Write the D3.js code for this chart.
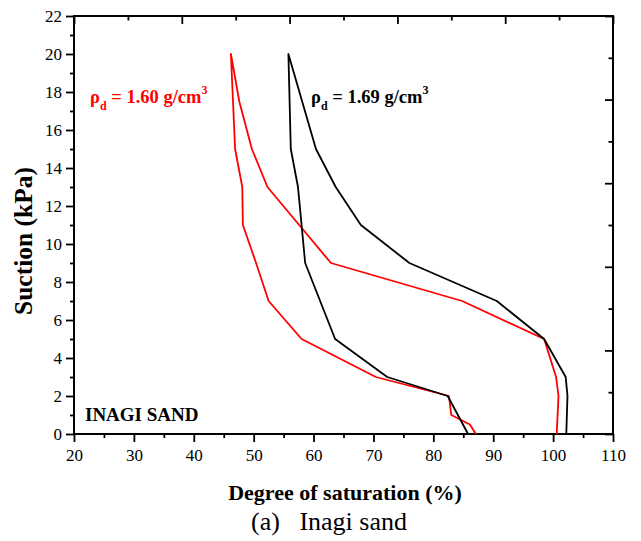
<!DOCTYPE html>
<html>
<head>
<meta charset="utf-8">
<script src="https://cdn.jsdelivr.net/npm/d3@7"></script>
<style>
  html, body { margin: 0; padding: 0; background: #fff; }
  svg text { font-family: 'Liberation Serif', 'Times New Roman', Times, 'DejaVu Serif', serif; }
</style>
</head>
<body>
<div id="chart"></div>
<script>
// suction (kPa) vs degree of saturation (%), drying branch then wetting branch
const blackSuction = [0, 2, 3, 5, 7, 9, 11, 13, 15, 20, 15, 13, 9, 5, 3, 2, 0];
const blackSaturation = [102.2, 102.4, 102.1, 98.5, 90.6, 76.0, 67.9, 63.7, 60.4, 55.8, 56.2, 57.4, 58.6, 63.6, 72.3, 82.4, 85.8];
const redSuction = [0, 2, 3, 5, 7, 9, 11, 13, 15, 17.5, 20, 15, 13, 11, 9, 7, 5, 3, 2, 1, 0.5, 0];
const redSaturation = [100.6, 100.9, 100.5, 98.5, 84.8, 62.9, 57.6, 52.3, 49.7, 47.6, 46.2, 46.9, 48.1, 48.2, 50.4, 52.5, 58.0, 70.4, 82.6, 83.0, 86.1, 87.1];

const xTicks = [20, 30, 40, 50, 60, 70, 80, 90, 100, 110];
const xMinorTicks = [25, 35, 45, 55, 65, 75, 85, 95, 105];
const yTicks = [0, 2, 4, 6, 8, 10, 12, 14, 16, 18, 20, 22];
const yMinorTicks = [1, 3, 5, 7, 9, 11, 13, 15, 17, 19, 21];
// top and right frame axes carry their own unlabeled 0-10 ticks
const frameMajor = [0, 2, 4, 6, 8, 10];
const frameMinor = [1, 3, 5, 7, 9];

const FONT = "'Liberation Serif', 'Times New Roman', Times, 'DejaVu Serif', serif";
const width = 641;
const height = 541;
const margin = { top: 16, right: 28, bottom: 107, left: 74 };
const innerW = width - margin.left - margin.right;
const innerH = height - margin.top - margin.bottom;

const svg = d3.select('#chart').append('svg')
  .attr('width', width)
  .attr('height', height)
  .attr('font-family', FONT);

svg.append('rect').attr('width', width).attr('height', height).attr('fill', '#fff');

const g = svg.append('g').attr('transform', `translate(${margin.left},${margin.top})`);

const x = d3.scaleLinear().domain([20, 110]).range([0, innerW]);
const y = d3.scaleLinear().domain([0, 22]).range([innerH, 0]);
const xTop = d3.scaleLinear().domain([0, 10]).range([0, innerW]);
const yRight = d3.scaleLinear().domain([0, 10]).range([innerH, 0]);

const styleAxis = (sel) => {
  sel.attr('font-family', FONT).attr('font-size', 17);
  sel.select('.domain').remove();
  sel.selectAll('.tick line').attr('stroke', '#000').attr('stroke-width', 1.8);
  sel.selectAll('.tick text').attr('fill', '#000');
};

// bottom
g.append('g').attr('transform', `translate(0,${innerH})`)
  .call(d3.axisBottom(x).tickValues(xTicks).tickSize(8).tickPadding(7).tickFormat(d3.format('d')))
  .call(styleAxis);
g.append('g').attr('transform', `translate(0,${innerH})`)
  .call(d3.axisBottom(x).tickValues(xMinorTicks).tickSize(4).tickFormat(''))
  .call(styleAxis);

// left
g.append('g')
  .call(d3.axisLeft(y).tickValues(yTicks).tickSize(8).tickPadding(4).tickFormat(d3.format('d')))
  .call(styleAxis);
g.append('g')
  .call(d3.axisLeft(y).tickValues(yMinorTicks).tickSize(4).tickFormat(''))
  .call(styleAxis);

// top (inward)
g.append('g')
  .call(d3.axisTop(xTop).tickValues(frameMajor).tickSize(-8).tickFormat(''))
  .call(styleAxis);
g.append('g')
  .call(d3.axisTop(xTop).tickValues(frameMinor).tickSize(-4.5).tickFormat(''))
  .call(styleAxis);

// right (inward)
g.append('g').attr('transform', `translate(${innerW},0)`)
  .call(d3.axisRight(yRight).tickValues(frameMajor).tickSize(-8).tickFormat(''))
  .call(styleAxis);
g.append('g').attr('transform', `translate(${innerW},0)`)
  .call(d3.axisRight(yRight).tickValues(frameMinor).tickSize(-4.5).tickFormat(''))
  .call(styleAxis);

g.append('rect')
  .attr('width', innerW).attr('height', innerH)
  .attr('fill', 'none').attr('stroke', '#000').attr('stroke-width', 2);

const line = d3.line()
  .x(d => x(d[0]))
  .y(d => y(d[1]));

const series = [
  { color: '#ff0000', pts: d3.zip(redSaturation, redSuction) },
  { color: '#000000', pts: d3.zip(blackSaturation, blackSuction) }
];

series.forEach(s => {
  g.append('path')
    .datum(s.pts)
    .attr('d', line)
    .attr('fill', 'none')
    .attr('stroke', s.color)
    .attr('stroke-width', 1.8)
    .attr('stroke-linejoin', 'round');
});

// density labels
const addDensity = (px, py, value, color) => {
  const t = svg.append('text')
    .attr('x', px).attr('y', py)
    .attr('fill', color)
    .attr('font-family', FONT)
    .attr('font-weight', 'bold')
    .attr('font-size', 18.5);
  t.append('tspan').text('ρ');
  t.append('tspan').attr('font-size', 12).attr('dy', 7).text('d');
  t.append('tspan').attr('dy', -7).text(` = ${value} g/cm`);
  t.append('tspan').attr('font-size', 12).attr('dy', -9).text('3');
};
addDensity(90, 103, '1.60', '#ff0000');
addDensity(311, 103, '1.69', '#000000');

svg.append('text')
  .attr('x', 85).attr('y', 421)
  .attr('font-family', FONT)
  .attr('font-weight', 'bold').attr('font-size', 19)
  .text('INAGI SAND');

svg.append('text')
  .attr('x', 345).attr('y', 500)
  .attr('text-anchor', 'middle')
  .attr('font-family', FONT)
  .attr('font-weight', 'bold').attr('font-size', 22)
  .text('Degree of saturation (%)');

svg.append('text')
  .attr('transform', 'translate(32,241) rotate(-90)')
  .attr('text-anchor', 'middle')
  .attr('font-family', FONT)
  .attr('font-weight', 'bold').attr('font-size', 25.5)
  .text('Suction (kPa)');

svg.append('text')
  .attr('x', 329).attr('y', 530)
  .attr('text-anchor', 'middle')
  .attr('font-family', FONT)
  .attr('font-size', 26)
  .style('white-space', 'pre')
  .text('(a)   Inagi sand');
</script>
</body>
</html>
